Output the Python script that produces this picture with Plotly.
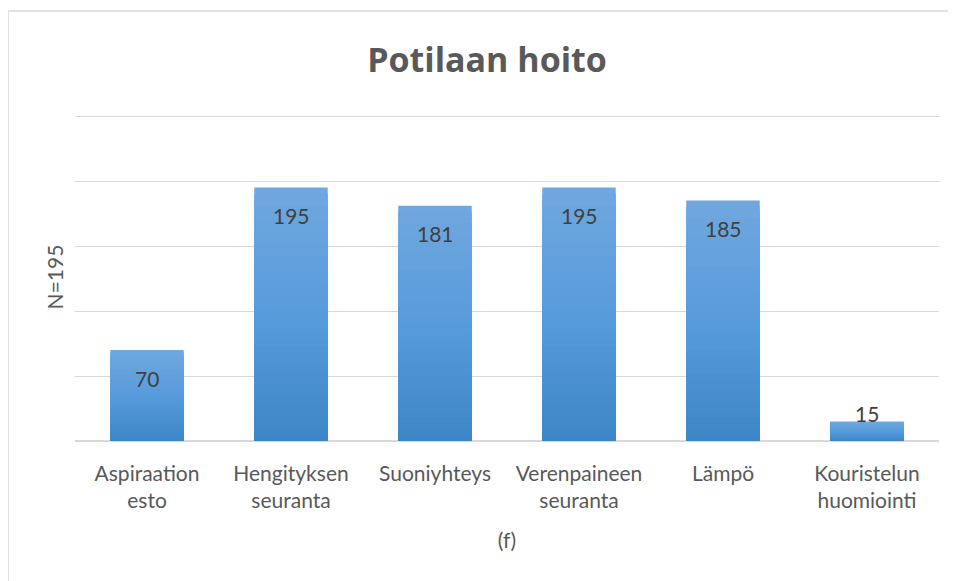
import plotly.graph_objects as go

categories = ["Aspiraation<br>esto", "Hengityksen<br>seuranta", "Suoniyhteys",
              "Verenpaineen<br>seuranta", "Lämpö", "Kouristelun<br>huomiointi"]
values = [70, 195, 181, 195, 185, 15]
y_ticks = [0, 50, 100, 150, 200, 250]

title_text = "Potilaan hoito"
y_title = "N=195"
x_title = "(f)"

FONT = "Lato"
TXT = "#595959"


def hex2rgb(h):
    h = h.lstrip("#")
    return tuple(int(h[i:i + 2], 16) for i in (0, 2, 4))


stops = [(0.0, hex2rgb("#70a7de")), (0.5, hex2rgb("#579bdc")), (1.0, hex2rgb("#3d85c6"))]


def grad(t):
    for (t0, c0), (t1, c1) in zip(stops[:-1], stops[1:]):
        if t0 <= t <= t1:
            u = (t - t0) / (t1 - t0)
            c = [round(a + (b - a) * u) for a, b in zip(c0, c1)]
            return "rgb(%d,%d,%d)" % tuple(c)
    return "rgb(%d,%d,%d)" % stops[-1][1]


fig = go.Figure()
N = 40
for i in range(N):
    f = 1 - i / N
    fig.add_trace(go.Bar(
        x=categories, y=[v * f for v in values],
        marker=dict(color=grad(1 - f), line=dict(width=0)),
        hoverinfo="skip", showlegend=False,
    ))

annotations = []
for c, v in zip(categories, values):
    inside = v >= 40
    annotations.append(dict(
        x=c, y=v, xref="x", yref="y", text=str(v), showarrow=False,
        yanchor="middle", yshift=-28 if inside else 8,
        font=dict(family=FONT, size=21, color="#404040"),
    ))

# plot area: figure y 105..433  (value 0 at 433, 250 at 108)
top_val = 250 + 3 / 1.3
H = 328.0
W = 864.0
fig.update_layout(
    width=956, height=581,
    margin=dict(l=67, r=25, t=105, b=148),
    paper_bgcolor="white", plot_bgcolor="white",
    barmode="overlay", bargap=0.49,
    title=dict(text="<b>%s</b>" % title_text, x=479 / 956, xref="container", xanchor="center",
               y=1 - 52 / 581, yref="container", yanchor="middle",
               font=dict(family="Open Sans", size=34, color=TXT)),
    font=dict(family=FONT, color=TXT),
    annotations=annotations,
    shapes=[
        dict(type="line", xref="paper", yref="paper", x0=-67 / W, x1=1.05,
             y0=1 + (105 - 3) / H, y1=1 + (105 - 3) / H,
             line=dict(color="#d9d9d9", width=1.5)),
        dict(type="line", xref="paper", yref="paper", x0=-67 / W, x1=-67 / W,
             y0=1 + (105 - 3) / H, y1=-0.47,
             line=dict(color="#d9d9d9", width=1.5)),
    ],
)

fig.update_xaxes(
    showgrid=False, showline=False, zeroline=False,
    tickfont=dict(family=FONT, size=21, color=TXT),
    ticks="", ticklabelstandoff=18,
    title=dict(text=x_title, font=dict(family=FONT, size=21, color=TXT), standoff=22),
)
fig.update_yaxes(
    range=[0, top_val], tickvals=y_ticks, showticklabels=False, ticks="",
    showgrid=True, gridcolor="#d9d9d9", gridwidth=1,
    zeroline=True, zerolinecolor="#d9d9d9", zerolinewidth=2, showline=False,
    title=dict(text=y_title, font=dict(family=FONT, size=21, color=TXT), standoff=4),
)

fig.write_html("out.html")
